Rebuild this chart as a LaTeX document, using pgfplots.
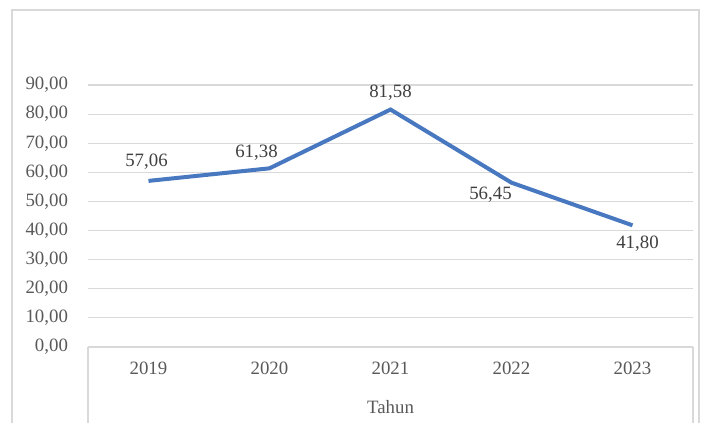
\documentclass[border=0pt]{standalone}
\usepackage{fontspec}
\setmainfont{Liberation Serif}
\usepackage{pgfplots}
\pgfplotsset{compat=1.18}
\usepackage{pgfplotstable}

\definecolor{linecol}{RGB}{72,120,192}
\definecolor{gridcol}{RGB}{217,217,217}
\definecolor{tickcol}{RGB}{89,89,89}
\definecolor{labcol}{RGB}{64,64,64}

% x = year index, y = value, dx/dy = label offset in pt
\pgfplotstableread{
x y dx dy
0 57.06 -1.2 11.4
1 61.38 -7.8 9.6
2 81.58 0 9.9
3 56.45 -12.6 -7.2
4 41.80 3 -10.8
}\data

\begin{document}
\begin{tikzpicture}
\begin{axis}[
  at={(0,0)}, anchor=south west,
  width=363pt, height=157.2pt, scale only axis,
  xmin=-0.5, xmax=4.5, ymin=0, ymax=90,
  xtick=data,
  xticklabels={2019,2020,2021,2022,2023},
  ytick={0,10,...,90},
  axis line style={draw=none},
  major tick length=0pt,
  ymajorgrids,
  grid style={gridcol, line width=0.7pt},
  font=\fontsize{11.3}{13}\selectfont,
  /pgf/number format/.cd, fixed, fixed zerofill, precision=2, use comma, assume math mode=true,
  /pgfplots/.cd,
  yticklabel style={text=tickcol, anchor=east, xshift=-8.5pt},
  xticklabel style={text=tickcol, anchor=center, yshift=-12.6pt},
  xlabel={Tahun},
  xlabel style={text=tickcol, at={(axis description cs:0.5,0)}, anchor=center, yshift=-36pt},
  clip=false,
]
\addplot[
  color=linecol, line width=2.4pt, mark=none,
  visualization depends on={\thisrow{dx} \as \dx},
  visualization depends on={\thisrow{dy} \as \dy},
  nodes near coords,
  every node near coord/.append style={
    text=labcol, anchor=center, xshift=\dx pt, yshift=\dy pt,
    font=\fontsize{11.3}{13}\selectfont,
  },
] table[x=x, y=y] {\data};
\draw[gridcol, line width=0.7pt] (rel axis cs:0,0) -- (rel axis cs:1,0);
\draw[gridcol, line width=0.7pt] (rel axis cs:0,0) -- ++(0pt,-50pt);
\draw[gridcol, line width=0.7pt] (rel axis cs:1,0) -- ++(0pt,-50pt);
\end{axis}
\draw[gridcol, line width=0.7pt] (-45.6pt,-60pt) -- (-45.6pt,202.2pt) -- (366.6pt,202.2pt) -- (366.6pt,-60pt);
\pgfresetboundingbox
\useasboundingbox (-52.8pt,-45.6pt) rectangle (368.4pt,208.2pt);
\end{tikzpicture}
\end{document}
